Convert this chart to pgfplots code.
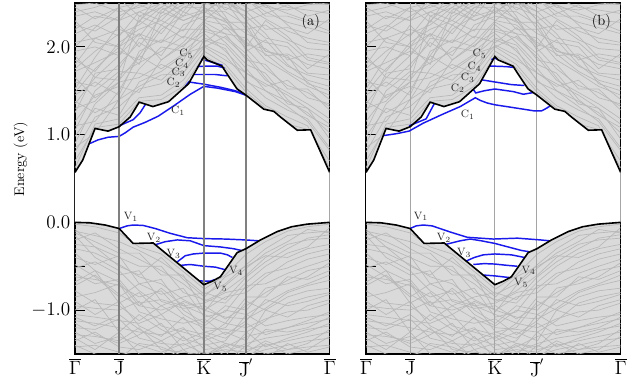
\documentclass[border=0pt]{standalone}
\usepackage{pgfplots}
\pgfplotsset{compat=1.18}
\usepackage{pgfplotstable}
\definecolor{bgray}{RGB}{218,218,218}
\definecolor{bulkc}{RGB}{184,184,184}
\definecolor{bandblue}{RGB}{25,25,235}
\definecolor{vlinea}{RGB}{128,128,128}
\definecolor{vlineb}{RGB}{165,165,165}

% bulk conduction bands (x = k-path position)
\pgfplotstableread{
x c1 c2 c3 c4 c5 c6 c7 c8 c9 c10 c11 c12 c13 c14 c15 c16 c17 c18 c19 c20 c21 c22 c23 c24 c25 c26 c27 c28 c29 c30 c31 c32 c33 c34
0 0.62 0.80 0.98 1.15 1.30 1.45 1.60 1.72 1.85 1.95 2.05 2.15 2.25 2.35 2.45 1.05 1.38 1.90 2.30 0.70 2.40 1.52 0.90 1.25 1.75 2.20 2.00 1.35 0.85 1.65 2.48 1.48 1.10 1.80
20 1.12 1.20 1.30 1.45 1.38 1.60 1.55 1.82 1.72 2.00 2.10 2.25 2.18 2.40 2.32 1.50 1.25 1.65 2.05 1.08 2.45 1.88 1.35 1.70 1.95 2.35 2.22 1.65 1.02 1.42 2.50 1.75 1.15 2.10
44 1.18 1.32 1.22 1.55 1.68 1.45 1.80 1.95 2.05 1.90 2.20 2.12 2.35 2.30 2.45 1.72 1.40 1.62 2.00 1.12 2.55 2.25 1.60 1.75 2.15 2.30 2.45 1.90 1.40 1.60 2.40 2.00 1.50 2.00
64 1.42 1.52 1.60 1.48 1.82 1.95 2.05 1.85 2.20 2.30 2.12 2.40 2.48 2.55 2.28 1.70 1.75 1.90 2.15 1.38 2.35 2.00 1.65 2.10 2.25 2.40 2.50 2.15 1.55 2.35 2.45 1.80 1.90 2.30
86 1.45 1.58 1.72 1.85 1.95 2.08 1.90 2.20 2.30 2.15 2.42 2.50 2.38 2.60 2.65 1.62 2.00 2.25 2.05 1.40 2.45 2.35 1.80 2.05 2.45 2.30 2.55 1.85 1.68 2.25 2.55 2.40 1.75 2.50
108 1.62 1.78 1.90 2.02 2.12 2.00 2.25 2.35 2.18 2.45 2.52 2.35 2.60 2.70 2.75 1.85 1.95 2.10 2.40 1.55 2.62 2.48 1.70 2.20 2.30 2.55 2.40 2.05 1.70 2.45 2.50 2.30 1.92 2.58
129 1.95 2.02 2.10 2.18 2.05 2.28 2.35 2.42 2.50 2.55 2.38 2.62 2.70 2.58 2.80 2.25 2.15 2.45 2.30 1.90 2.48 2.65 2.00 2.20 2.40 2.60 2.72 2.30 2.08 2.45 2.55 2.40 2.00 2.55
150 1.80 1.90 2.02 2.10 2.22 2.15 2.30 2.40 2.45 2.52 2.60 2.42 2.65 2.72 2.70 2.05 1.95 2.32 2.50 1.76 2.58 2.35 1.85 2.15 2.28 2.62 2.55 2.25 1.98 2.20 2.48 2.55 2.12 2.30
171 1.52 1.62 1.75 1.88 1.98 2.10 2.02 2.25 2.35 2.20 2.45 2.55 2.50 2.62 2.68 1.80 1.70 2.15 2.40 1.48 2.30 1.95 1.70 1.85 2.28 2.55 2.40 2.05 1.60 2.20 2.60 2.30 1.92 2.00
190 1.33 1.42 1.50 1.62 1.75 1.85 1.98 1.90 2.15 2.25 2.32 2.40 2.48 2.55 2.62 1.70 1.55 2.05 2.20 1.30 2.38 2.08 1.58 1.80 2.10 2.35 2.48 1.92 1.50 1.95 2.45 1.95 1.65 2.30
212 1.20 1.28 1.38 1.48 1.56 1.70 1.78 1.92 1.85 2.08 2.18 2.28 2.38 2.45 2.52 1.40 1.62 2.00 2.22 1.12 2.48 1.80 1.45 1.52 2.05 2.35 2.25 1.72 1.32 1.88 2.42 1.90 1.35 2.12
232 1.10 1.18 1.25 1.35 1.48 1.55 1.68 1.80 1.92 1.98 2.10 2.22 2.30 2.42 2.50 1.22 1.42 1.75 2.15 1.06 2.35 1.62 1.30 1.52 1.85 2.28 2.05 1.60 1.15 1.70 2.48 1.58 1.30 1.88
254 0.62 0.85 1.02 1.18 1.32 1.45 1.62 1.75 1.88 1.96 2.05 2.15 2.28 2.38 2.48 1.08 1.35 1.92 2.32 0.70 2.42 1.55 0.95 1.28 1.80 2.18 2.02 1.40 0.82 1.68 2.50 1.50 1.12 1.82
}\bulkC

% bulk valence bands
\pgfplotstableread{
x v1 v2 v3 v4 v5 v6 v7 v8 v9 v10 v11 v12 v13 v14 v15 v16 v17 v18 v19 v20 v21 v22 v23 v24 v25 v26 v27 v28 v29 v30 v31 v32
0 -0.02 -0.10 -0.20 -0.08 -0.30 -0.40 -0.52 -0.62 -0.72 -0.85 -0.95 -1.05 -1.12 -1.20 -1.28 -1.35 -1.42 -0.15 -0.48 -0.78 -1.00 -1.25 -0.25 -0.58 -0.90 -1.15 -1.32 -0.68 -0.35 -1.40 -1.08 -0.12
20 -0.05 -0.15 -0.12 -0.28 -0.35 -0.48 -0.45 -0.65 -0.60 -0.80 -0.98 -1.08 -1.15 -1.22 -1.30 -1.25 -1.40 -0.40 -0.62 -0.92 -0.88 -1.38 -0.28 -0.70 -1.05 -1.28 -1.45 -0.55 -0.55 -1.50 -1.18 -0.22
44 -0.12 -0.22 -0.30 -0.40 -0.48 -0.38 -0.60 -0.72 -0.82 -0.70 -1.00 -1.12 -1.20 -1.10 -1.35 -1.42 -1.48 -0.55 -0.85 -0.95 -1.25 -1.30 -0.50 -0.65 -0.90 -1.38 -1.25 -0.92 -0.68 -1.55 -1.05 -0.35
64 -0.28 -0.32 -0.42 -0.50 -0.62 -0.70 -0.55 -0.85 -0.95 -1.02 -0.90 -1.15 -1.25 -1.32 -1.20 -1.45 -1.52 -0.78 -0.70 -1.12 -1.05 -1.40 -0.60 -0.92 -1.18 -1.28 -1.50 -0.80 -0.95 -1.38 -1.22 -0.35
86 -0.36 -0.45 -0.55 -0.50 -0.70 -0.82 -0.90 -0.78 -1.00 -1.10 -1.18 -1.05 -1.28 -1.38 -1.45 -1.35 -1.55 -0.95 -0.65 -0.95 -1.22 -1.48 -0.40 -0.88 -1.30 -1.15 -1.52 -1.05 -0.75 -1.42 -1.35 -0.60
108 -0.56 -0.62 -0.70 -0.80 -0.88 -0.75 -0.98 -1.05 -0.92 -1.15 -1.25 -1.32 -1.20 -1.40 -1.48 -1.55 -1.45 -0.85 -1.00 -1.10 -1.35 -1.38 -0.65 -0.95 -1.08 -1.45 -1.30 -0.90 -0.95 -1.52 -1.22 -0.60
129 -0.76 -0.82 -0.90 -0.88 -1.00 -1.08 -0.95 -1.18 -1.25 -1.10 -1.32 -1.40 -1.45 -1.30 -1.52 -1.60 -1.62 -0.80 -1.15 -1.20 -1.25 -1.50 -0.85 -1.05 -1.35 -1.38 -1.55 -1.00 -0.92 -1.48 -1.28 -1.02
150 -0.60 -0.70 -0.78 -0.92 -0.85 -1.02 -1.10 -1.00 -1.20 -1.28 -1.15 -1.35 -1.42 -1.48 -1.38 -1.55 -1.60 -0.88 -0.95 -1.22 -1.32 -1.45 -0.62 -1.15 -1.25 -1.52 -1.40 -1.08 -0.80 -1.58 -1.38 -0.72
171 -0.36 -0.48 -0.60 -0.68 -0.80 -0.72 -0.95 -1.05 -0.90 -1.12 -1.20 -1.05 -1.30 -1.38 -1.45 -1.52 -1.40 -0.62 -1.00 -1.25 -1.15 -1.48 -0.50 -0.85 -1.35 -1.25 -1.55 -1.10 -0.75 -1.50 -1.42 -0.52
190 -0.22 -0.30 -0.40 -0.50 -0.62 -0.70 -0.80 -0.92 -1.00 -0.88 -1.10 -1.18 -1.25 -1.32 -1.40 -1.45 -1.50 -0.45 -0.75 -1.12 -1.28 -1.35 -0.38 -0.85 -1.00 -1.42 -1.38 -0.98 -0.58 -1.55 -1.22 -0.35
212 -0.10 -0.15 -0.25 -0.35 -0.45 -0.58 -0.66 -0.78 -0.85 -0.95 -1.02 -1.12 -1.20 -1.28 -1.35 -1.40 -1.45 -0.30 -0.70 -0.92 -1.20 -1.45 -0.40 -0.62 -1.08 -1.32 -1.50 -0.80 -0.52 -1.38 -1.25 -0.22
232 -0.05 -0.12 -0.20 -0.28 -0.36 -0.50 -0.55 -0.70 -0.78 -0.90 -1.00 -1.08 -1.15 -1.22 -1.30 -1.35 -1.42 -0.18 -0.62 -0.85 -1.12 -1.38 -0.30 -0.65 -0.95 -1.25 -1.45 -0.72 -0.42 -1.48 -1.20 -0.08
254 -0.02 -0.10 -0.18 -0.06 -0.30 -0.42 -0.50 -0.60 -0.75 -0.82 -0.92 -1.05 -1.10 -1.18 -1.25 -1.32 -1.40 -0.14 -0.46 -0.80 -1.02 -1.22 -0.25 -0.55 -0.88 -1.15 -1.30 -0.66 -0.36 -1.42 -1.08 -0.12
}\bulkV

% projected band edges
\pgfplotstableread{
x y
0 0.57
7.7 0.71
20 1.07
33 1.04
44 1.09
48 1.13
55 1.20
64 1.37
77.7 1.32
93.3 1.375
113.3 1.58
128.5 1.89
132 1.85
146.7 1.78
151.7 1.69
161.7 1.52
170.5 1.45
188.3 1.29
198.3 1.265
205 1.20
221.7 1.05
235 1.055
254 0.57
}\upperB

\pgfplotstableread{
x y
0 0.0
15 -0.005
30 -0.03
44 -0.07
58 -0.24
78 -0.235
128.5 -0.71
137 -0.67
145 -0.62
161.7 -0.345
170.5 -0.30
185 -0.20
201.7 -0.105
216 -0.05
231.7 -0.02
254 0.0
}\lowerB

% gap region (upper edge left to right, lower edge right to left)
\pgfplotstableread{
x y
0 0.57
7.7 0.71
20 1.07
33 1.04
44 1.09
48 1.13
55 1.20
64 1.37
77.7 1.32
93.3 1.375
113.3 1.58
128.5 1.89
132 1.85
146.7 1.78
151.7 1.69
161.7 1.52
170.5 1.45
188.3 1.29
198.3 1.265
205 1.20
221.7 1.05
235 1.055
254 0.57
254 0.0
231.7 -0.02
216 -0.05
201.7 -0.105
185 -0.20
170.5 -0.30
161.7 -0.345
145 -0.62
137 -0.67
128.5 -0.71
78 -0.235
58 -0.24
44 -0.07
30 -0.03
15 -0.005
0 0.0
}\gapB

\newcommand{\bulkandgap}{%
  \pgfplotsinvokeforeach{c1,c2,c3,c4,c5,c6,c7,c8,c9,c10,c11,c12,c13,c14,c15,c16,c17,c18,c19,c20,c21,c22,c23,c24,c25,c26,c27,c28,c29,c30,c31,c32,c33,c34}{%
    \addplot[bulk] table[x=x,y=##1]{\bulkC};}
  \pgfplotsinvokeforeach{v1,v2,v3,v4,v5,v6,v7,v8,v9,v10,v11,v12,v13,v14,v15,v16,v17,v18,v19,v20,v21,v22,v23,v24,v25,v26,v27,v28,v29,v30,v31,v32}{%
    \addplot[bulk] table[x=x,y=##1]{\bulkV};}
  \addplot[fill=white, draw=none, forget plot] table[x=x,y=y]{\gapB};
}
\newcommand{\edges}{%
  \addplot[edge] table[x=x,y=y]{\upperB};
  \addplot[edge] table[x=x,y=y]{\lowerB};
}

\tikzset{lab/.style={font=\fontsize{8}{9}\selectfont, inner sep=0pt, text=black!85}}
\pgfplotsset{
  bulk/.style={bulkc, line width=0.5pt, forget plot},
  bb/.style={bandblue, line width=1.1pt, forget plot},
  edge/.style={black, line width=1.2pt, forget plot},
  bandaxis/.style={
    scale only axis, width=191pt, height=263.25pt,
    xmin=0, xmax=254, ymin=-1.5, ymax=2.5,
    no markers,
    axis background/.style={fill=bgray},
    axis line style={line width=0.8pt},
    xtick={0,44,128.5,170.5,254},
    xticklabels={$\overline{\Gamma}$,$\overline{\mathrm{J}}$,$\overline{\mathrm{K}}$,$\overline{\mathrm{J}}'$,$\overline{\Gamma}$},
    xtick style={draw=none},
    x tick label style={font=\fontsize{13.5}{16}\selectfont},
    ytick={-1,0,1,2}, minor ytick={-0.5,0.5,1.5},
    ytick pos=left, tick align=inside,
    major tick length=7.5pt, minor tick length=7.5pt,
    ytick style={black, line width=0.6pt},
    minor tick style={black, line width=0.6pt},
    y tick label style={font=\fontsize{13.5}{16}\selectfont},
    yticklabel style={/pgf/number format/fixed, /pgf/number format/fixed zerofill, /pgf/number format/precision=1},
  }
}

\begin{document}
\begin{tikzpicture}
\useasboundingbox (0,0) rectangle (474.75pt,288.75pt);

% ---------------- panel (a)
\begin{axis}[bandaxis, at={(56.25pt,23.25pt)}, anchor=south west,
  ylabel={Energy (eV)},
  ylabel style={font=\fontsize{10.5}{12}\selectfont, at={(axis description cs:-0.214,0.555)}, anchor=center}]
\bulkandgap
% conduction surface states
\addplot[bb] coordinates {(15,0.90) (23,0.94) (33,0.97) (44,0.98) (50,1.02) (58,1.085) (70,1.14) (83,1.21) (100,1.34) (115,1.46) (128.5,1.55) (142,1.53) (160,1.49) (170.5,1.45)};
\addplot[bb] coordinates {(44,1.10) (58,1.17) (65,1.25) (70,1.34)};
\addplot[bb] coordinates {(110,1.55) (113.5,1.60) (128.5,1.575) (145,1.54) (160,1.50) (170.5,1.45)};
\addplot[bb] coordinates {(118,1.685) (128.5,1.685) (140,1.685) (152,1.67)};
\addplot[bb] coordinates {(122,1.775) (128.5,1.78) (142,1.78) (149,1.76)};
\addplot[bb] coordinates {(126,1.86) (132,1.84) (147,1.79)};
% valence surface states
\addplot[bb] coordinates {(44,-0.07) (52,-0.04) (58,-0.03) (68,-0.035) (80,-0.07) (95,-0.125) (112,-0.175) (128.5,-0.185) (150,-0.19) (170,-0.20) (183,-0.21)};
\addplot[bb] coordinates {(80,-0.255) (90,-0.22) (102,-0.20) (115,-0.21) (128.5,-0.265) (145,-0.28) (158,-0.30) (166,-0.32)};
\addplot[bb] coordinates {(102,-0.45) (110,-0.38) (118,-0.36) (128.5,-0.35) (145,-0.35) (152,-0.37) (157,-0.40)};
\addplot[bb] coordinates {(105,-0.49) (115,-0.48) (128.5,-0.50) (140,-0.51) (150,-0.54)};
\addplot[bb] coordinates {(124,-0.665) (128.5,-0.67) (135,-0.67) (140,-0.65)};
% high-symmetry lines
\addplot[vlinea, line width=1.4pt, forget plot] coordinates {(44,-1.5) (44,2.5)};
\addplot[vlinea, line width=1.4pt, forget plot] coordinates {(128.5,-1.5) (128.5,2.5)};
\addplot[vlinea, line width=1.4pt, forget plot] coordinates {(170.5,-1.5) (170.5,2.5)};
\edges
\node[lab] at (axis cs:111,1.92) {C$_5$};
\node[lab] at (axis cs:106.7,1.81) {C$_4$};
\node[lab] at (axis cs:103.3,1.71) {C$_3$};
\node[lab] at (axis cs:98.3,1.59) {C$_2$};
\node[lab] at (axis cs:102.8,1.27) {C$_1$};
\node[lab] at (axis cs:55.8,0.065) {V$_1$};
\node[lab] at (axis cs:78.8,-0.175) {V$_2$};
\node[lab] at (axis cs:98.3,-0.36) {V$_3$};
\node[lab] at (axis cs:160.8,-0.55) {V$_4$};
\node[lab] at (axis cs:145,-0.735) {V$_5$};
\node[anchor=north east, inner sep=0pt, font=\fontsize{11}{13}\selectfont] at (rel axis cs:0.963,0.967) {(a)};
\end{axis}

% ---------------- panel (b)
\begin{axis}[bandaxis, at={(274.5pt,23.25pt)}, anchor=south west, yticklabels={}]
\bulkandgap
\addplot[vlineb, line width=0.7pt, forget plot] coordinates {(44,-1.5) (44,2.5)};
\addplot[vlineb, line width=0.7pt, forget plot] coordinates {(128.5,-1.5) (128.5,2.5)};
\addplot[vlineb, line width=0.7pt, forget plot] coordinates {(170.5,-1.5) (170.5,2.5)};
% conduction surface states
\addplot[bb] coordinates {(18,0.99) (30,1.01) (43,1.04) (57,1.13) (77,1.235) (94,1.32) (109,1.42) (114,1.39) (121,1.36) (128.5,1.34) (140,1.32) (157,1.29) (168,1.27) (175,1.27) (180,1.30) (184,1.33)};
\addplot[bb] coordinates {(43,1.10) (60,1.18) (68,1.35)};
\addplot[bb] coordinates {(107,1.515) (109.5,1.475) (118,1.50) (128.5,1.52) (147,1.49) (157,1.46) (167,1.48)};
\addplot[bb] coordinates {(115,1.625) (128.5,1.60) (145,1.57) (158,1.56)};
\addplot[bb] coordinates {(123,1.78) (128.5,1.78) (140,1.775) (148,1.765)};
\addplot[bb] coordinates {(125,1.855) (128.5,1.87) (131,1.86)};
% valence surface states
\addplot[bb] coordinates {(44,-0.07) (50,-0.04) (57,-0.03) (66,-0.04) (84,-0.11) (101,-0.17) (127,-0.19) (151,-0.18) (174,-0.20) (183,-0.21)};
\addplot[bb] coordinates {(80,-0.25) (94,-0.21) (104,-0.19) (115,-0.21) (128.5,-0.24) (145,-0.29) (155,-0.32) (163,-0.335)};
\addplot[bb] coordinates {(100,-0.44) (108,-0.40) (117,-0.37) (128.5,-0.36) (145,-0.37) (158,-0.40)};
\addplot[bb] coordinates {(107,-0.48) (118,-0.47) (128.5,-0.475) (141,-0.49) (151,-0.50)};
\addplot[bb] coordinates {(117,-0.60) (128.5,-0.61) (144,-0.63)};
\edges
\node[lab] at (axis cs:113.2,1.92) {C$_5$};
\node[lab] at (axis cs:108.2,1.775) {C$_4$};
\node[lab] at (axis cs:101.5,1.65) {C$_3$};
\node[lab] at (axis cs:91.5,1.53) {C$_2$};
\node[lab] at (axis cs:101.5,1.225) {C$_1$};
\node[lab] at (axis cs:54.8,0.07) {V$_1$};
\node[lab] at (axis cs:77.8,-0.175) {V$_2$};
\node[lab] at (axis cs:97.8,-0.35) {V$_3$};
\node[lab] at (axis cs:162.3,-0.545) {V$_4$};
\node[lab] at (axis cs:154.8,-0.69) {V$_5$};
\node[anchor=north east, inner sep=0pt, font=\fontsize{11}{13}\selectfont] at (rel axis cs:0.963,0.967) {(b)};
\end{axis}
\end{tikzpicture}
\end{document}
